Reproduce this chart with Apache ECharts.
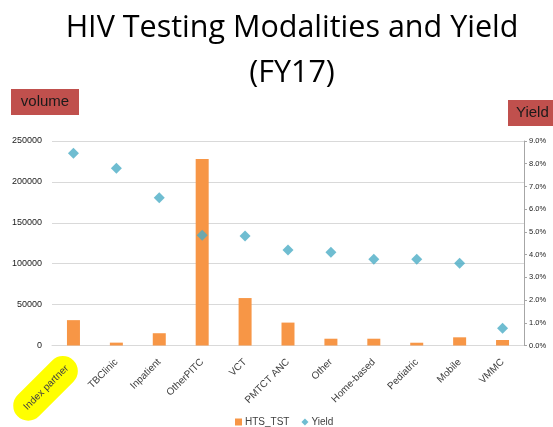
<!DOCTYPE html>
<html>
<head>
<meta charset="utf-8">
<script src="https://cdn.jsdelivr.net/npm/echarts@6/dist/echarts.min.js"></script>
<style>
  html, body { margin: 0; padding: 0; background: #ffffff; }
  #chart { width: 553px; height: 427px; }
</style>
</head>
<body>
<div id="chart"></div>
<script>
// Testing modalities, FY17
const categories = ['Index partner', 'TBClinic', 'Inpatient', 'OtherPITC', 'VCT', 'PMTCT ANC', 'Other', 'Home-based', 'Pediatric', 'Mobile', 'VMMC'];
// number of HIV tests per modality
const htsTst = [31000, 3500, 15000, 228000, 58000, 28000, 8300, 8300, 3400, 10000, 6700];
// positivity yield, in percent
const yieldPct = [8.46, 7.8, 6.5, 4.85, 4.82, 4.2, 4.1, 3.8, 3.8, 3.62, 0.76];
// axis ticks
const volumeTicks = [0, 50000, 100000, 150000, 200000, 250000];
const yieldTicks = [0, 1, 2, 3, 4, 5, 6, 7, 8, 9];

const chart = echarts.init(document.getElementById('chart'), null, { renderer: 'canvas' });

const labelFont = 'Liberation Sans, Arial, sans-serif';
const titleFont = 'Open Sans, Noto Sans, sans-serif';

chart.setOption({
  animation: false,
  backgroundColor: '#ffffff',
  title: {
    text: 'HIV Testing Modalities and Yield\n(FY17)',
    left: 287,
    top: 1,
    textAlign: 'center',
    textStyle: {
      fontFamily: titleFont,
      fontSize: 30.5,
      fontWeight: 'normal',
      color: '#000000',
      lineHeight: 45
    }
  },
  graphic: [
    {
      type: 'group', left: 11, top: 89,
      children: [
        { type: 'rect', shape: { x: 0, y: 0, width: 68, height: 26 }, style: { fill: '#C0504D' } },
        { type: 'text', x: 34, y: 13, style: { text: 'volume', fill: '#1a1a1a', font: '15px ' + labelFont, align: 'center', verticalAlign: 'middle' } }
      ]
    },
    {
      type: 'group', left: 508, top: 100,
      children: [
        { type: 'rect', shape: { x: 0, y: 0, width: 50, height: 26 }, style: { fill: '#C0504D' } },
        { type: 'text', x: 8, y: 13, style: { text: 'Yield', fill: '#1a1a1a', font: '15px ' + labelFont, align: 'left', verticalAlign: 'middle' } }
      ]
    }
  ],
  legend: {
    left: 230,
    top: 412,
    itemGap: 12,
    itemWidth: 7,
    itemHeight: 7,
    textStyle: { fontFamily: labelFont, fontSize: 10, color: '#404040', padding: [0, 0, 0, -2] },
    data: [
      { name: 'HTS_TST', icon: 'rect' },
      { name: 'Yield', icon: 'diamond' }
    ]
  },
  grid: { left: 52, right: 29, top: 141, bottom: 81.5, containLabel: false, outerBoundsMode: 'none' },
  xAxis: {
    type: 'category',
    data: categories,
    axisLine: { show: true, lineStyle: { color: '#d9d9d9', width: 1 } },
    axisTick: { show: false },
    axisLabel: {
      interval: 0,
      rotate: 45,
      margin: 15,
      fontFamily: labelFont,
      fontSize: 10,
      color: '#404040',
      formatter: function (v, i) {
        return i === 0 ? '{hl|' + v + '}' : v;
      },
      rich: {
        hl: {
          fontFamily: labelFont,
          fontSize: 10,
          color: '#404040',
          backgroundColor: '#ffff00',
          borderRadius: 15,
          padding: [10, 9, 10, 11]
        }
      }
    }
  },
  yAxis: [
    {
      type: 'value',
      min: volumeTicks[0],
      max: volumeTicks[volumeTicks.length - 1],
      interval: volumeTicks[1] - volumeTicks[0],
      axisLine: { show: false },
      axisTick: { show: false },
      splitLine: { show: true, lineStyle: { color: '#d9d9d9', width: 1 } },
      axisLabel: {
        fontFamily: labelFont, fontSize: 9, color: '#1a1a1a', margin: 10,
        formatter: function (v) { return String(v); }
      }
    },
    {
      type: 'value',
      min: yieldTicks[0],
      max: yieldTicks[yieldTicks.length - 1],
      interval: yieldTicks[1] - yieldTicks[0],
      position: 'right',
      axisLine: { show: true, lineStyle: { color: '#a6a6a6', width: 1 } },
      axisTick: { show: true, length: 3, lineStyle: { color: '#a6a6a6' } },
      splitLine: { show: false },
      axisLabel: {
        fontFamily: labelFont, fontSize: 7.5, color: '#1a1a1a', margin: 5,
        formatter: function (v) { return v.toFixed(1) + '%'; }
      }
    }
  ],
  series: [
    {
      name: 'HTS_TST',
      type: 'bar',
      yAxisIndex: 0,
      data: htsTst,
      barWidth: 13,
      itemStyle: { color: '#F79646' }
    },
    {
      name: 'Yield',
      type: 'scatter',
      yAxisIndex: 1,
      data: yieldPct,
      symbol: 'diamond',
      symbolSize: 11,
      itemStyle: { color: '#4BACC6' }
    }
  ]
});
</script>
</body>
</html>
